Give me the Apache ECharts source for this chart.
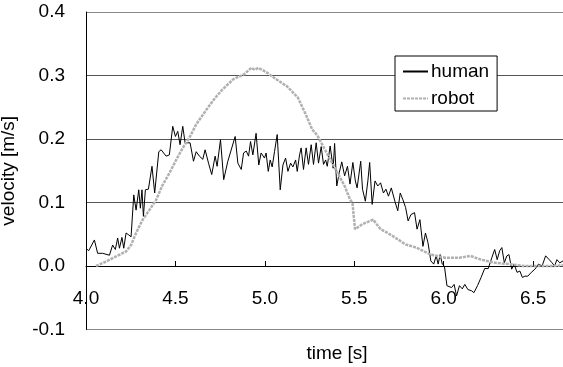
<!DOCTYPE html>
<html>
<head>
<meta charset="utf-8">
<script src="https://cdn.jsdelivr.net/npm/echarts@6/dist/echarts.min.js"></script>
<style>
html,body{margin:0;padding:0;background:#fff;}
#chart{width:563px;height:367px;}
</style>
</head>
<body>
<div id="chart"></div>
<script>
// Data
var humanT = [4.000,4.015,4.047,4.065,4.093,4.131,4.149,4.164,4.177,4.187,4.201,4.211,4.224,4.239,4.252,4.267,4.280,4.295,4.304,4.313,4.321,4.332,4.349,4.358,4.369,4.384,4.407,4.420,4.448,4.466,4.485,4.500,4.513,4.526,4.541,4.554,4.569,4.582,4.601,4.616,4.634,4.653,4.666,4.685,4.703,4.722,4.733,4.752,4.770,4.793,4.802,4.834,4.849,4.868,4.881,4.896,4.909,4.920,4.933,4.951,4.966,4.979,4.998,5.007,5.019,5.030,5.041,5.054,5.069,5.086,5.101,5.116,5.129,5.144,5.157,5.172,5.181,5.194,5.203,5.216,5.231,5.244,5.259,5.272,5.287,5.300,5.315,5.328,5.340,5.349,5.365,5.382,5.390,5.402,5.416,5.430,5.446,5.462,5.476,5.492,5.506,5.516,5.536,5.546,5.562,5.576,5.586,5.600,5.616,5.631,5.647,5.663,5.677,5.691,5.707,5.727,5.743,5.757,5.771,5.787,5.801,5.817,5.837,5.851,5.867,5.884,5.898,5.912,5.928,5.944,5.958,5.969,5.980,5.992,6.004,6.018,6.028,6.044,6.058,6.072,6.088,6.104,6.118,6.135,6.155,6.169,6.189,6.209,6.229,6.249,6.269,6.285,6.299,6.313,6.325,6.339,6.353,6.365,6.380,6.394,6.410,6.426,6.440,6.454,6.470,6.490,6.510,6.530,6.550,6.570,6.590,6.606,6.620,6.633,6.649,6.667];
var humanV = [0.028,0.024,0.041,0.020,0.020,0.017,0.033,0.026,0.044,0.028,0.045,0.028,0.052,0.049,0.046,0.112,0.088,0.120,0.091,0.120,0.078,0.120,0.121,0.120,0.157,0.115,0.180,0.183,0.173,0.175,0.220,0.204,0.212,0.191,0.220,0.194,0.194,0.194,0.165,0.180,0.173,0.168,0.183,0.162,0.144,0.173,0.157,0.199,0.136,0.165,0.162,0.204,0.162,0.152,0.178,0.181,0.173,0.196,0.175,0.209,0.159,0.178,0.170,0.178,0.149,0.167,0.156,0.180,0.207,0.120,0.159,0.170,0.149,0.162,0.156,0.167,0.149,0.175,0.186,0.152,0.186,0.160,0.191,0.160,0.194,0.162,0.188,0.160,0.167,0.157,0.189,0.154,0.193,0.126,0.147,0.164,0.142,0.157,0.129,0.163,0.134,0.123,0.165,0.121,0.102,0.134,0.163,0.097,0.134,0.126,0.131,0.115,0.121,0.110,0.123,0.102,0.087,0.115,0.105,0.092,0.071,0.081,0.084,0.058,0.073,0.031,0.052,0.037,0.008,0.003,0.016,0.003,0.018,0.003,0.000,-0.031,-0.029,-0.034,-0.029,-0.047,-0.031,-0.036,-0.029,-0.037,-0.039,-0.042,-0.031,-0.018,-0.004,-0.004,0.013,0.026,0.010,0.024,0.029,0.005,0.016,0.018,-0.005,0.003,-0.010,-0.008,-0.018,-0.016,-0.016,-0.010,-0.005,0.003,0.000,0.016,0.010,0.005,0.000,0.010,0.005,0.008];
var robotT = [4.056,4.112,4.168,4.224,4.252,4.280,4.317,4.354,4.392,4.429,4.466,4.504,4.541,4.578,4.616,4.653,4.683,4.723,4.763,4.823,4.884,4.924,4.944,4.964,5.004,5.064,5.124,5.185,5.225,5.265,5.295,5.325,5.365,5.406,5.446,5.476,5.490,5.504,5.546,5.606,5.647,5.687,5.727,5.787,5.847,5.928,6.008,6.088,6.149,6.209,6.289,6.369,6.450,6.530,6.610,6.667];
var robotV = [0.000,0.007,0.015,0.023,0.033,0.052,0.073,0.088,0.104,0.128,0.146,0.167,0.186,0.202,0.223,0.238,0.250,0.265,0.278,0.294,0.302,0.312,0.309,0.312,0.306,0.294,0.283,0.265,0.241,0.215,0.205,0.189,0.168,0.147,0.126,0.105,0.099,0.058,0.066,0.073,0.058,0.052,0.045,0.034,0.029,0.018,0.013,0.013,0.016,0.010,0.005,0.003,0.000,0.000,0.000,0.001];
var xMin = 4.0, xMax = 6.667, xStep = 0.5;
var yMin = -0.1, yMax = 0.4, yStep = 0.1;
var xTitle = 'time [s]';
var yTitle = 'velocity [m/s]';
var seriesNames = ['human', 'robot'];

function pairs(t, v) { return t.map(function (x, i) { return [x, v[i]]; }); }

var FONT = "'Liberation Sans', Arial, sans-serif";
var GRID_TOP = 12, GRID_BOTTOM = 37.5, H = 367;
// distance from grid bottom (y = yMin) up to the y = 0 line
var plotH = H - GRID_TOP - GRID_BOTTOM;
var zeroOffset = plotH * (0 - yMin) / (yMax - yMin);

var chart = echarts.init(document.getElementById('chart'), null, {renderer: 'canvas'});
chart.setOption({
  animation: false,
  backgroundColor: '#ffffff',
  textStyle: {fontFamily: FONT},
  title: {
    text: xTitle,
    left: 332, top: 339, textAlign: 'center',
    textStyle: {fontFamily: FONT, fontSize: 19, fontWeight: 'normal', color: '#000'}
  },
  grid: {left: 86, right: 0, top: GRID_TOP, bottom: GRID_BOTTOM, containLabel: false, outerBoundsMode: 'none'},
  legend: {
    orient: 'vertical',
    left: 395, top: 56,
    data: seriesNames,
    backgroundColor: '#fff',
    borderColor: '#000', borderWidth: 1, borderRadius: 0,
    padding: [6, 8, 3, 7],
    itemGap: 8, itemWidth: 25, itemHeight: 14,
    itemStyle: {opacity: 0},
    textStyle: {fontFamily: FONT, fontSize: 19, color: '#000', padding: [0,0,0,-2]}
  },
  xAxis: {
    type: 'value', min: xMin, max: xMax, interval: xStep,
    offset: -zeroOffset,
    axisLine: {onZero: false, lineStyle: {color: '#000', width: 1}},
    axisTick: {show: true, inside: true, length: 5, lineStyle: {color: '#000'}},
    splitLine: {show: false},
    axisLabel: {
      margin: 23, fontFamily: FONT, fontSize: 19, color: '#000',
      formatter: function (v) { return Math.abs(v / xStep - Math.round(v / xStep)) < 1e-6 ? v.toFixed(1) : ''; }
    }
  },
  yAxis: {
    type: 'value', min: yMin, max: yMax, interval: yStep,
    name: yTitle, nameLocation: 'middle', nameGap: 68, nameRotate: 90,
    nameTextStyle: {fontFamily: FONT, fontSize: 19, color: '#000'},
    axisLine: {show: true, onZero: false, lineStyle: {color: '#000', width: 1}},
    axisTick: {show: false},
    splitLine: {show: true, lineStyle: {color: ['#888', '#000', '#555', '#555', '#555', '#888'], width: 1.2}},
    axisLabel: {
      margin: 21, fontFamily: FONT, fontSize: 19, color: '#000',
      formatter: function (v) { return v.toFixed(1); }
    }
  },
  series: [
    {
      name: seriesNames[0], type: 'line', data: pairs(humanT, humanV),
      showSymbol: false, symbol: 'none',
      lineStyle: {color: '#000', width: 1},
      itemStyle: {color: '#000'}
    },
    {
      name: seriesNames[1], type: 'line', data: pairs(robotT, robotV),
      showSymbol: false, symbol: 'none',
      lineStyle: {color: '#b0b0b0', width: 2.5, type: [3, 1]},
      itemStyle: {color: '#b0b0b0'}
    }
  ]
});
</script>
</body>
</html>
